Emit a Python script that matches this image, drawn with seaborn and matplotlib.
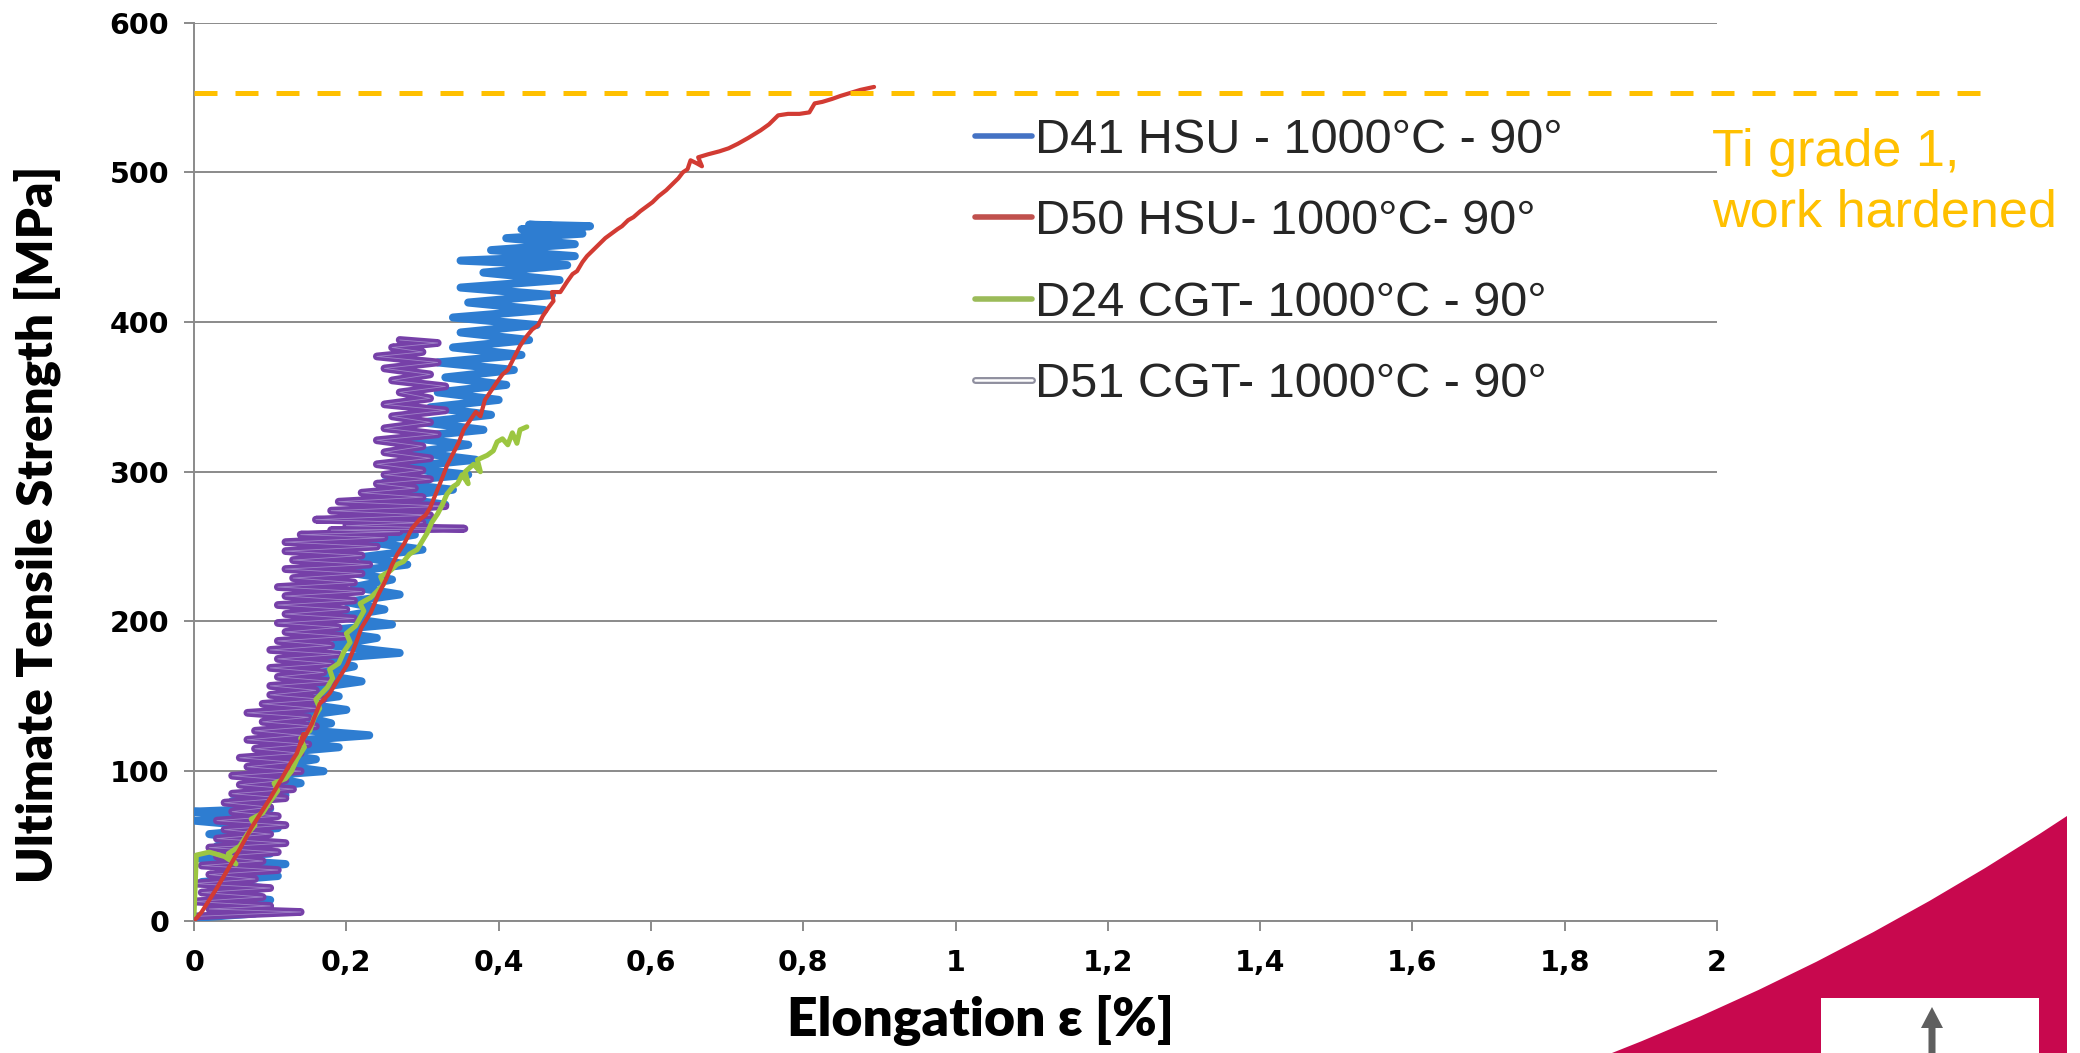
import numpy as np
import pandas as pd
import matplotlib
matplotlib.use("Agg")
import matplotlib.pyplot as plt
import seaborn as sns
from matplotlib.lines import Line2D
from matplotlib.path import Path
import matplotlib.patches as mpatches
import matplotlib.patheffects as pe

# ---------------- data ----------------
series_labels = ["D41 HSU - 1000°C - 90°", "D50 HSU- 1000°C- 90°",
                 "D24 CGT- 1000°C - 90°", "D51 CGT- 1000°C - 90°"]

x_ticks = [0, 0.2, 0.4, 0.6, 0.8, 1.0, 1.2, 1.4, 1.6, 1.8, 2.0]
x_tick_labels = ["0", "0,2", "0,4", "0,6", "0,8", "1", "1,2", "1,4", "1,6", "1,8", "2"]
y_ticks = [0, 100, 200, 300, 400, 500, 600]
y_tick_labels = ["0", "100", "200", "300", "400", "500", "600"]

ti_grade1_uts = 553
ref_label = "Ti grade 1,\nwork hardened"
x_label = "Elongation ε [%]"
y_label = "Ultimate Tensile Strength [MPa]"

# D41 HSU (blue) - very noisy zig-zag signal
d41_points = [
    (0.00, 2), (0.08, 5), (0.02, 10), (0.10, 14), (0.03, 18), (0.09, 22), (0.01, 26), (0.11, 30),
    (0.04, 34), (0.12, 38), (0.00, 42), (0.10, 45), (0.03, 50), (0.08, 54), (0.02, 58), (0.11, 62),
    (0.00, 67), (0.09, 70), (0.00, 73), (0.10, 75), (0.05, 80), (0.12, 84), (0.07, 88), (0.14, 92),
    (0.09, 97), (0.17, 100), (0.11, 104), (0.16, 108), (0.10, 112), (0.19, 116), (0.12, 120),
    (0.23, 124), (0.13, 128), (0.18, 132), (0.14, 137), (0.20, 141), (0.13, 146), (0.19, 150),
    (0.15, 155), (0.22, 160), (0.16, 165), (0.21, 170), (0.17, 175), (0.27, 179), (0.18, 184),
    (0.24, 189), (0.17, 194), (0.26, 198), (0.19, 203), (0.25, 208), (0.20, 213), (0.27, 218),
    (0.21, 223), (0.26, 228), (0.20, 233), (0.28, 238), (0.22, 243), (0.30, 248), (0.23, 253),
    (0.29, 258), (0.24, 263), (0.31, 268), (0.25, 273), (0.33, 278), (0.26, 283), (0.34, 288),
    (0.25, 293), (0.36, 298), (0.27, 303), (0.37, 308), (0.29, 313), (0.36, 318), (0.28, 323),
    (0.38, 328), (0.30, 333), (0.39, 338), (0.31, 343), (0.40, 348), (0.32, 353), (0.41, 358),
    (0.33, 363), (0.42, 368), (0.32, 373), (0.43, 378), (0.34, 383), (0.44, 388), (0.35, 393),
    (0.45, 398), (0.34, 403), (0.46, 408), (0.36, 413), (0.47, 418), (0.35, 423), (0.48, 428),
    (0.38, 433), (0.49, 438), (0.35, 441), (0.50, 444), (0.39, 448), (0.50, 452), (0.41, 456),
    (0.51, 459), (0.43, 462), (0.52, 464), (0.44, 465), (0.51, 463),
]

# D50 HSU (red)
d50_points = [
    (0.000, 0), (0.010, 6), (0.020, 14), (0.030, 22), (0.045, 35), (0.060, 48), (0.075, 62),
    (0.090, 74), (0.100, 82), (0.115, 95), (0.125, 104), (0.135, 112), (0.144, 125), (0.140, 118),
    (0.155, 132), (0.165, 145), (0.178, 152), (0.190, 162), (0.201, 171), (0.210, 182),
    (0.220, 196), (0.232, 206), (0.242, 218), (0.252, 228), (0.260, 238), (0.267, 245),
    (0.276, 252), (0.286, 262), (0.296, 268), (0.304, 271), (0.310, 276), (0.318, 286),
    (0.326, 296), (0.332, 304), (0.340, 312), (0.348, 320), (0.354, 328), (0.362, 334),
    (0.370, 340), (0.376, 337), (0.382, 348), (0.390, 354), (0.398, 360), (0.405, 365),
    (0.412, 368), (0.420, 376), (0.428, 384), (0.436, 390), (0.444, 395), (0.452, 398),
    (0.458, 404), (0.466, 410), (0.472, 414), (0.470, 420), (0.481, 420), (0.490, 427),
    (0.497, 432), (0.503, 434), (0.510, 440), (0.516, 444), (0.524, 448), (0.532, 452),
    (0.540, 456), (0.548, 459), (0.556, 462), (0.562, 464), (0.570, 468), (0.577, 470),
    (0.586, 474), (0.594, 477), (0.602, 480), (0.610, 484), (0.620, 488), (0.628, 492),
    (0.636, 496), (0.642, 500), (0.648, 502), (0.652, 508), (0.660, 506), (0.667, 504),
    (0.662, 510), (0.675, 512), (0.690, 514), (0.702, 516), (0.714, 519), (0.728, 523),
    (0.744, 528), (0.755, 532), (0.767, 538), (0.780, 539), (0.795, 539), (0.808, 540),
    (0.815, 546), (0.825, 547), (0.838, 549), (0.849, 551), (0.862, 553), (0.875, 555),
    (0.893, 557),
]

# D24 CGT (green)
d24_points = [
    (0.000, 4), (0.003, 44), (0.020, 46), (0.040, 43), (0.055, 38), (0.045, 45), (0.060, 50),
    (0.070, 58), (0.080, 64), (0.075, 68), (0.090, 72), (0.100, 80), (0.110, 87), (0.105, 92),
    (0.120, 95), (0.128, 100), (0.135, 108), (0.145, 116), (0.140, 122), (0.152, 127),
    (0.158, 136), (0.165, 142), (0.160, 148), (0.175, 156), (0.182, 162), (0.178, 168),
    (0.190, 172), (0.197, 180), (0.205, 186), (0.200, 192), (0.212, 197), (0.223, 207),
    (0.218, 212), (0.232, 216), (0.240, 220), (0.249, 225), (0.245, 230), (0.258, 234),
    (0.266, 238), (0.275, 240), (0.283, 245), (0.293, 248), (0.300, 254), (0.306, 259),
    (0.312, 266), (0.320, 272), (0.326, 278), (0.332, 285), (0.340, 290), (0.346, 292),
    (0.352, 298), (0.360, 292), (0.356, 300), (0.367, 305), (0.376, 300), (0.372, 308),
    (0.385, 311), (0.393, 314), (0.398, 320), (0.405, 322), (0.412, 318), (0.418, 326),
    (0.424, 319), (0.428, 328), (0.437, 330),
]

# D51 CGT (purple) - very noisy zig-zag signal
d51_points = [
    (0.00, 3), (0.14, 6), (0.02, 8), (0.10, 10), (0.00, 13), (0.09, 16), (0.01, 19), (0.10, 22),
    (0.00, 25), (0.08, 28), (0.02, 31), (0.11, 34), (0.01, 37), (0.09, 40), (0.03, 43), (0.11, 46),
    (0.02, 49), (0.12, 52), (0.03, 55), (0.10, 58), (0.04, 61), (0.12, 64), (0.03, 67), (0.11, 70),
    (0.05, 73), (0.10, 76), (0.04, 79), (0.12, 82), (0.05, 85), (0.13, 88), (0.06, 91), (0.12, 94),
    (0.05, 97), (0.14, 100), (0.07, 103), (0.13, 106), (0.06, 109), (0.14, 112), (0.08, 115),
    (0.15, 118), (0.07, 121), (0.14, 124), (0.08, 127), (0.16, 130), (0.09, 133), (0.15, 136),
    (0.07, 139), (0.16, 142), (0.09, 145), (0.17, 148), (0.10, 151), (0.16, 154), (0.10, 157),
    (0.18, 160), (0.11, 163), (0.17, 166), (0.10, 169), (0.18, 172), (0.11, 175), (0.19, 178),
    (0.10, 181), (0.18, 184), (0.11, 187), (0.20, 190), (0.12, 193), (0.19, 196), (0.11, 199),
    (0.21, 202), (0.12, 205), (0.20, 208), (0.11, 211), (0.21, 214), (0.12, 217), (0.22, 220),
    (0.11, 223), (0.21, 226), (0.13, 229), (0.22, 232), (0.12, 235), (0.23, 238), (0.13, 241),
    (0.22, 244), (0.12, 247), (0.24, 250), (0.12, 253), (0.25, 256), (0.14, 258), (0.27, 260),
    (0.18, 261), (0.355, 262), (0.20, 264), (0.30, 266), (0.16, 268), (0.31, 271), (0.18, 274),
    (0.33, 277), (0.19, 280), (0.30, 283), (0.22, 286), (0.29, 289), (0.24, 292), (0.31, 295),
    (0.25, 298), (0.30, 301), (0.24, 305), (0.31, 309), (0.25, 313), (0.30, 317), (0.24, 321),
    (0.32, 325), (0.25, 329), (0.31, 333), (0.26, 337), (0.33, 341), (0.25, 345), (0.31, 349),
    (0.27, 353), (0.33, 357), (0.26, 361), (0.31, 365), (0.25, 369), (0.32, 373), (0.24, 377),
    (0.30, 380), (0.26, 383), (0.32, 386), (0.27, 388),
]

# ---------------- styling ----------------
BLUE, RED, GREEN, PURPLE = "#2E7DD1", "#D23B33", "#9CC641", "#7640A8"
BLUE_LEG, RED_LEG, GREEN_LEG = "#4472C4", "#C0504D", "#9BBB59"
GOLD = "#FFC000"
GRID = "#8a8a8a"

sns.set_style("white")
plt.rcParams["font.family"] = ["Lato", "DejaVu Sans"]

fig = plt.figure(figsize=(20.8, 10.53), dpi=100)
ax = fig.add_axes([0.0933, 0.1254, 0.7322, 0.8532])


def to_df(points):
    return pd.DataFrame(points, columns=["x", "y"])


sns.lineplot(data=to_df(d41_points), x="x", y="y", sort=False, estimator=None,
             color=BLUE, lw=5.8, ax=ax, legend=False, zorder=3)
sns.lineplot(data=to_df(d51_points), x="x", y="y", sort=False, estimator=None,
             color="#a184c8", lw=0.6, ax=ax, legend=False, zorder=4,
             path_effects=[pe.Stroke(linewidth=5.6, foreground=PURPLE), pe.Normal()])
sns.lineplot(data=to_df(d24_points), x="x", y="y", sort=False, estimator=None,
             color=GREEN, lw=3.6, ax=ax, legend=False, zorder=5)
sns.lineplot(data=to_df(d50_points), x="x", y="y", sort=False, estimator=None,
             color=RED, lw=3.0, ax=ax, legend=False, zorder=6)

ax.set_xlim(0, 2)
ax.set_ylim(0, 600)
ax.set_xticks(x_ticks)
ax.set_xticklabels(x_tick_labels)
ax.set_yticks(y_ticks)
ax.set_yticklabels(y_tick_labels)
ax.grid(axis="y", color=GRID, lw=1.4)
ax.grid(axis="x", visible=False)
ax.set_axisbelow(True)
for s in ["top", "right"]:
    ax.spines[s].set_visible(False)
for s in ["left", "bottom"]:
    ax.spines[s].set_color(GRID)
    ax.spines[s].set_linewidth(1.4)
ax.tick_params(axis="both", which="major", direction="out", length=7, width=1.4,
               color=GRID, labelsize=20.5, bottom=True, left=True)
ax.tick_params(axis="y", pad=11)
ax.tick_params(axis="x", pad=13)
for lbl in ax.get_xticklabels() + ax.get_yticklabels():
    lbl.set_fontweight("bold")
    lbl.set_family("DejaVu Sans")
    lbl.set_color("#000000")

ax.set_ylabel(y_label, fontsize=35.5, fontweight="heavy", color="#000000")
ax.yaxis.set_label_coords(-0.0875, 0.442)
ax.set_xlabel(x_label, fontsize=38.5, fontweight="heavy", color="#000000")
ax.xaxis.set_label_coords(0.5166, -0.082)

# reference line for Ti grade 1 (extends beyond the plot area)
ax.axhline(ti_grade1_uts, xmin=0, xmax=1.179, color=GOLD, lw=3.6, dashes=(4.6, 3.6),
           clip_on=False, zorder=7)
fig.text(0.8231, 0.878, ref_label, color=GOLD, fontsize=37.5, family="Liberation Sans",
         ha="left", va="top", linespacing=1.3)

# legend
handles = [
    Line2D([], [], color=BLUE_LEG, lw=4),
    Line2D([], [], color=RED_LEG, lw=4),
    Line2D([], [], color=GREEN_LEG, lw=4),
    Line2D([], [], color="white", lw=1.8,
           path_effects=[pe.Stroke(linewidth=5, foreground="#8f8f9f"), pe.Normal()]),
]
fig.legend(handles, series_labels, loc="upper left", bbox_to_anchor=(0.4688, 0.888),
           frameon=False, prop={"family": "Liberation Sans", "size": 35},
           handlelength=1.17, handletextpad=0.06, labelspacing=0.75,
           borderpad=0, borderaxespad=0)

# decorative slide elements (bottom-right corner)
W, H = 2080, 1053
deco = Path([(1612 / W, 0.0), (1850 / W, 1 - 960 / H), (2067 / W, 1 - 816 / H),
             (2067 / W, 0.0), (1612 / W, 0.0)],
            [Path.MOVETO, Path.CURVE3, Path.CURVE3, Path.LINETO, Path.CLOSEPOLY])
fig.add_artist(mpatches.PathPatch(deco, transform=fig.transFigure,
                                  facecolor="#C8084E", edgecolor="none"))
fig.add_artist(mpatches.Rectangle((1821 / W, 0), (2039 - 1821) / W, (1053 - 998) / H,
                                  transform=fig.transFigure, facecolor="white",
                                  edgecolor="none"))
arrow_pts = [(19.285, 0.0), (19.355, 0.0), (19.355, 0.25), (19.43, 0.25),
             (19.32, 0.46), (19.21, 0.25), (19.285, 0.25)]
fig.add_artist(mpatches.Polygon(arrow_pts, closed=True, transform=fig.dpi_scale_trans,
                                facecolor="#5f5f5f", edgecolor="none"))

fig.savefig("out.png", dpi=100, facecolor="white")
